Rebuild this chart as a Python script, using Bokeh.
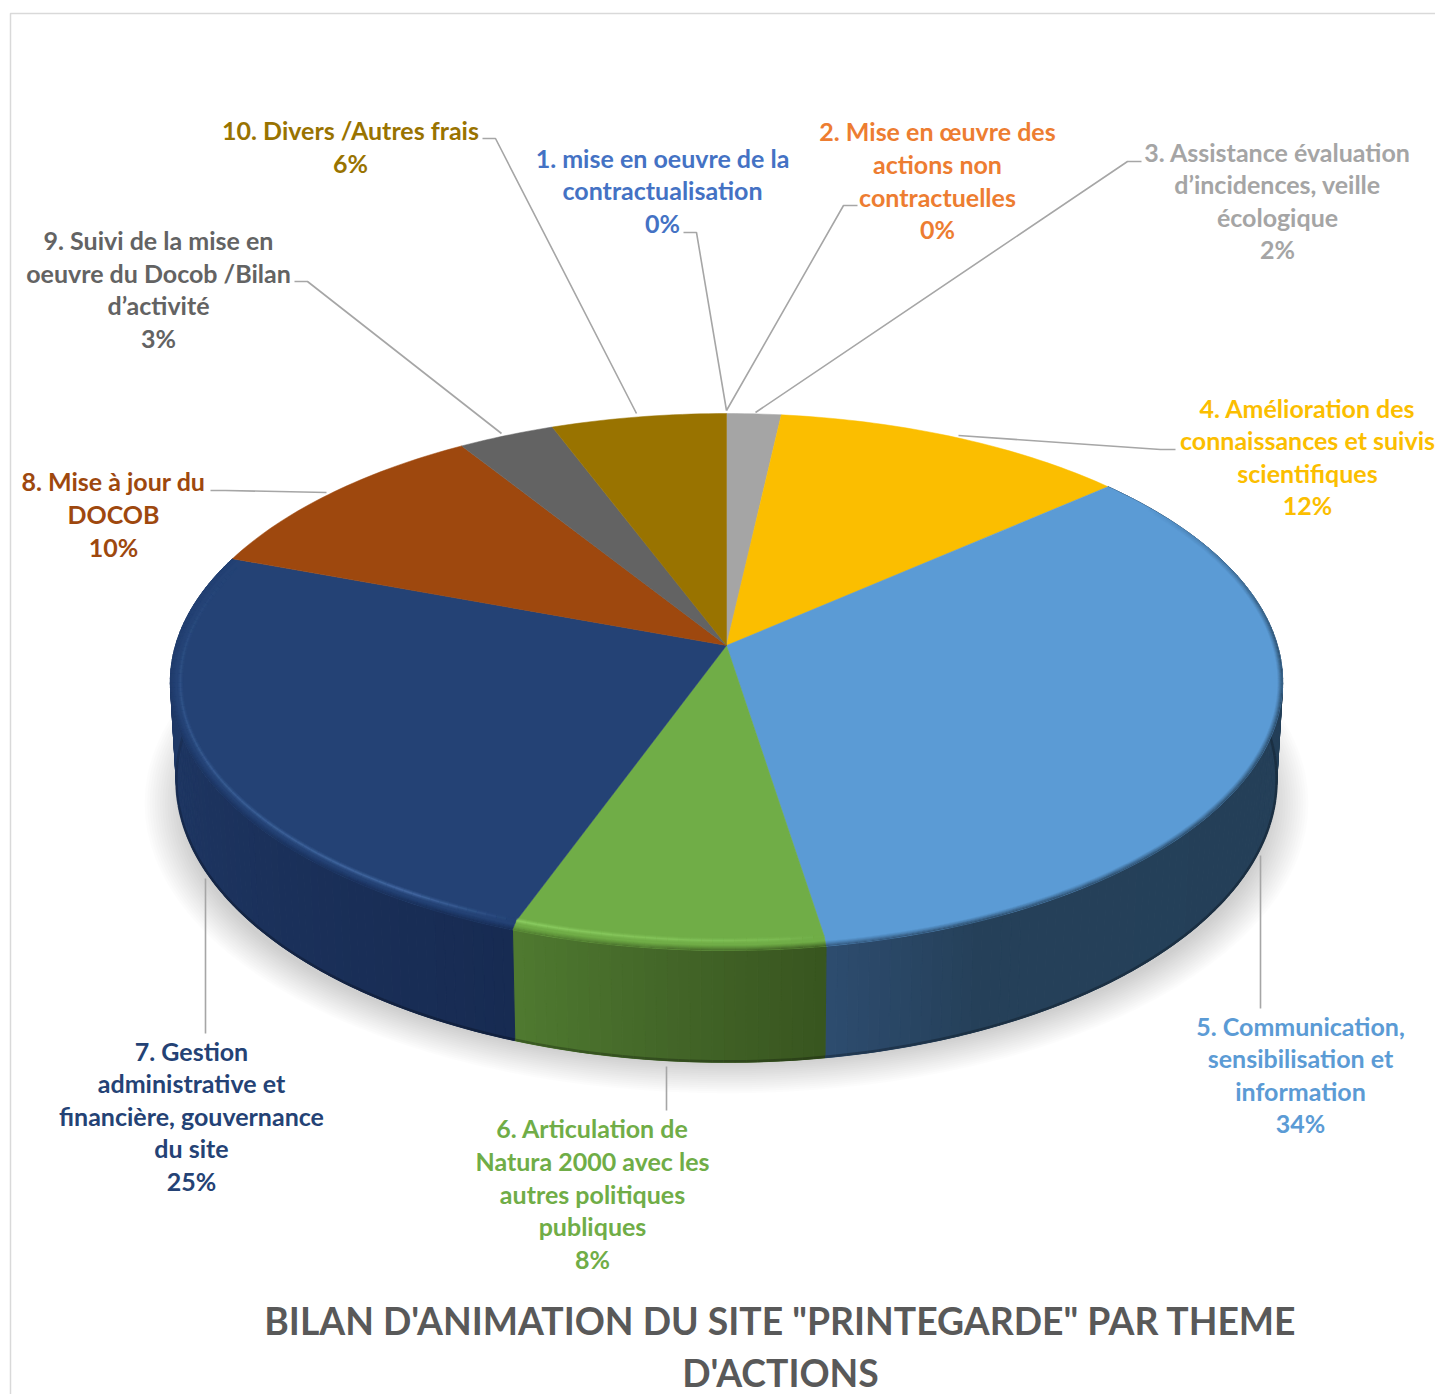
import math
from bokeh.plotting import figure
from bokeh.models import Range1d, ColumnDataSource
from bokeh.core.properties import value
from bokeh.embed import file_html
from bokeh.resources import INLINE

# ---------- data ----------
themes = ["1. mise en oeuvre de la contractualisation",
          "2. Mise en œuvre des actions non contractuelles",
          "3. Assistance évaluation d’incidences, veille écologique",
          "4. Amélioration des connaissances et suivis scientifiques",
          "5. Communication, sensibilisation et information",
          "6. Articulation de Natura 2000 avec les autres politiques publiques",
          "7. Gestion administrative et financière, gouvernance du site",
          "8. Mise à jour du DOCOB",
          "9. Suivi de la mise en oeuvre du Docob /Bilan d’activité",
          "10. Divers /Autres frais"]
shares = [0.0, 0.0, 1.8, 11.8, 33.9, 8.0, 25.1, 10.4, 3.2, 5.8]
pct_labels = ["0%", "0%", "2%", "12%", "34%", "8%", "25%", "10%", "3%", "6%"]

# ---------- styles ----------
colors = ["#4472C4", "#ED7D31", "#A5A5A5", "#FBBE00", "#5B9BD5",
          "#70AD47", "#244275", "#9E480E", "#636363", "#997300"]
wall_stops = {4: [(0, "#223e57"), (0.88, "#254059"), (1, "#2d4c6f")],
              5: [(0, "#38551f"), (0.5, "#436628"), (1, "#4f7a30")],
              6: [(0, "#172b52"), (0.45, "#1c335e"), (0.8, "#203a68"), (1, "#244072")]}
highlights = {5: ("#93d669", 0.95, 0.3), 6: ("#5680bd", 0.7, 0.0)}
leader_color = "#A6A6A6"

# ---------- layout (page pixels) ----------
W, H = 1435, 1394
label_font_px = 25
title_font_px = 37.3
TEXT_DY = -1.5
label_lines = [
    (662, [159, 191, 224], ["1. mise en oeuvre de la", "contractualisation", "0%"]),
    (937, [132, 165, 198, 230], ["2. Mise en œuvre des", "actions non", "contractuelles", "0%"]),
    (1277, [153, 185, 218, 250], ["3. Assistance évaluation", "d’incidences, veille", "écologique", "2%"]),
    (1307, [409, 441, 474, 506], ["4. Amélioration des", "connaissances et suivis", "scientifiques", "12%"]),
    (1300, [1027, 1059, 1092, 1124], ["5. Communication,", "sensibilisation et", "information", "34%"]),
    (592, [1129, 1162, 1195, 1227, 1260], ["6. Articulation de", "Natura 2000 avec les", "autres politiques", "publiques", "8%"]),
    (191, [1052, 1084, 1117, 1149, 1182], ["7. Gestion", "administrative et", "financière, gouvernance", "du site", "25%"]),
    (113, [482, 515, 548], ["8. Mise à jour du", "DOCOB", "10%"]),
    (158, [241, 274, 306, 339], ["9. Suivi de la mise en", "oeuvre du Docob /Bilan", "d’activité", "3%"]),
    (350, [131, 164], ["10. Divers /Autres frais", "6%"]),
]
leaders = [
    ([683, 696, 726], [232, 232, 410]),
    ([857, 843, 726], [205, 205, 410]),
    ([1141, 1127, 755], [161, 161, 412]),
    ([1175, 1160, 958], [449, 449, 435]),
    ([1260, 1260], [1008, 855]),
    ([666, 666], [1110, 1066]),
    ([205, 205], [1033, 878]),
    ([210, 225, 326], [490, 490, 492]),
    ([294, 307, 501], [281, 281, 433]),
    ([482, 495, 636], [138, 138, 413]),
]
title_lines = [(780, 1321, "BILAN D'ANIMATION DU SITE \"PRINTEGARDE\" PAR THEME"),
               (780, 1373, "D'ACTIONS")]

# perspective model of the disc
CX, K = 726.0, 0.136
TOP = dict(cy=645.0, A=263.5, B=551.0)
BOT = dict(cy=741.6, A=276.7, B=545.0)
ELL_CY, ELL_RX, ELL_RY = 682.0, 556.0, 268.0


def project(theta, m):
    X, Y = math.sin(theta), math.cos(theta)
    w = 1 + K * Y
    return CX + m["B"] * X / w, m["cy"] - m["A"] * Y / w


def top_point(theta, inset=0.0):
    x, y = project(theta, TOP)
    return (CX + (x - CX) * (1 - inset / ELL_RX),
            ELL_CY + (y - ELL_CY) * (1 - inset / ELL_RY))


def hex2rgb(c):
    return tuple(int(c[i:i + 2], 16) for i in (1, 3, 5))


def lerp_stops(stops, f):
    for (a, ca), (b, cb) in zip(stops, stops[1:]):
        if f <= b:
            t = (f - a) / (b - a) if b > a else 0
            ra, rb = hex2rgb(ca), hex2rgb(cb)
            return "#%02x%02x%02x" % tuple(round(u + (v - u) * t) for u, v in zip(ra, rb))
    return stops[-1][1]


def darker(c, f):
    return "#%02x%02x%02x" % tuple(round(u * f) for u in hex2rgb(c))


def side_taper(t):
    """1 on the front of the disc, fading towards both silhouettes."""
    d = math.degrees(t)
    return min(1.0, max(0.0, (d - 55) / 35), ) * min(1.0, max(0.12, (295 - d) / 45))


# cumulative angles
total = sum(shares)
edges = [0.0]
for s in shares:
    edges.append(edges[-1] + s / total * 2 * math.pi)

p = figure(width=W, height=H, output_backend="svg", toolbar_location=None,
           x_range=Range1d(0, W), y_range=Range1d(H, 0),
           min_border=0, outline_line_color=None, background_fill_color="white",
           border_fill_color="white")
p.axis.visible = False
p.grid.visible = False

# frame of the picture
p.line([10, 10, 1435], [1394, 13, 13], line_color="#D9D9D9", line_width=1.5)

# soft shadow
n = 16
for i in range(n):
    f = i / (n - 1)
    p.ellipse([CX], [803], width=2 * (582 - 38 * f), height=2 * (290 - 30 * f),
              fill_color="black", fill_alpha=0.0125, line_color=None)

# side walls
wx, wy, wc = [], [], []
bx, by, bc, ba = [], [], [], []
for i, stops in wall_stops.items():
    a, b = edges[i], edges[i + 1]
    steps = max(4, int((b - a) / math.radians(1.0)))
    for j in range(steps):
        t0 = a + (b - a) * j / steps
        t1 = a + (b - a) * (j + 1) / steps
        c = lerp_stops(stops, (j + 0.5) / steps)
        p0, p1 = top_point(t0), top_point(t1)
        q0, q1 = project(t0, BOT), project(t1, BOT)
        wx.append([p0[0], p1[0], q1[0], q0[0]])
        wy.append([p0[1], p1[1], q1[1], q0[1]])
        wc.append(c)
        bx.append([q0[0], q1[0]])
        by.append([q0[1] - 1, q1[1] - 1])
        bc.append(darker(c, 0.75))
        ba.append(side_taper((t0 + t1) / 2))
p.patches(wx, wy, fill_color=wc, line_color=wc, line_width=1)
p.multi_line(bx, by, line_color=bc, line_alpha=ba, line_width=2.5)

# top face
fx, fy, fc = [], [], []
for i, s in enumerate(shares):
    if s <= 0:
        continue
    a, b = edges[i], edges[i + 1]
    steps = max(3, int((b - a) / math.radians(1.0)))
    bev_a = 10 * max(0.0, -math.cos(a))
    bev_b = 10 * max(0.0, -math.cos(b))
    pa, pb = top_point(a, bev_a), top_point(b, bev_b)
    arc = [top_point(a + (b - a) * j / steps) for j in range(steps + 1)]
    pts = [(CX, TOP["cy"]), pa] + arc + [pb]
    fx.append([q[0] for q in pts])
    fy.append([q[1] for q in pts])
    fc.append(colors[i])
p.patches(fx, fy, fill_color=fc, line_color=fc, line_width=0.5)

# soft edge between the top face and the wall
for inset, alpha in [(0.5, 0.75), (1.5, 0.55), (2.5, 0.38), (3.5, 0.22), (4.5, 0.1)]:
    xs, ys, cs, al = [], [], [], []
    for i, stops in wall_stops.items():
        a, b = edges[i], edges[i + 1]
        steps = max(4, int((b - a) / math.radians(1.0)))
        for j in range(steps):
            t0 = a + (b - a) * j / steps
            t1 = a + (b - a) * (j + 1) / steps
            p0, p1 = top_point(t0, inset), top_point(t1, inset)
            xs.append([p0[0], p1[0]])
            ys.append([p0[1], p1[1]])
            cs.append(lerp_stops(stops, (j + 0.5) / steps))
            al.append(alpha * side_taper((t0 + t1) / 2))
    p.multi_line(xs, ys, line_color=cs, line_alpha=al, line_width=1.2)

# bevel highlights (blurred by stacking wider, fainter strokes)
for i, (c, peak, low) in highlights.items():
    a, b = edges[i], edges[i + 1]
    steps = max(4, int((b - a) / math.radians(1.0)))
    for inset, w, k in [(10, 5.5, 0.2), (10, 3.5, 0.3), (10, 1.5, 0.5)]:
        xs, ys, al = [], [], []
        for j in range(steps):
            t0 = a + (b - a) * j / steps
            t1 = a + (b - a) * (j + 1) / steps
            p0, p1 = top_point(t0, inset), top_point(t1, inset)
            xs.append([p0[0], p1[0]])
            ys.append([p0[1], p1[1]])
            f = (j + 0.5) / steps
            if i == 5:
                alpha = peak * (low + (1 - low) * f) * min(1.0, f * 6 + 0.1)
            else:
                alpha = peak * (1 - abs(f - 0.12) / 0.88) if f > 0.12 else peak * (f / 0.12) * 1.0
            al.append(max(0.0, alpha) * k)
        p.multi_line(xs, ys, line_color=c, line_alpha=al, line_width=w)

# leader lines
p.multi_line([l[0] for l in leaders], [l[1] for l in leaders],
             line_color=leader_color, line_width=1.6)

# labels
tx, ty, tt, tc = [], [], [], []
for i, (cx, ys, lines) in enumerate(label_lines):
    for y, line in zip(ys, lines):
        tx.append(cx); ty.append(y + TEXT_DY); tt.append(line); tc.append(colors[i])
p.text(x="x", y="y", text="t", text_color="c",
       source=ColumnDataSource(dict(x=tx, y=ty, t=tt, c=tc)),
       text_font=value("Lato"), text_font_style="bold",
       text_font_size=f"{label_font_px}px", text_align="center", text_baseline="middle")

# title
p.text(x=[t[0] for t in title_lines], y=[t[1] + TEXT_DY for t in title_lines],
       text=[t[2] for t in title_lines], text_color="#595959",
       text_font=value("Lato"), text_font_style="bold",
       text_font_size=f"{title_font_px}px", text_align="center", text_baseline="middle")

open("out.html", "w").write(file_html(p, INLINE))
